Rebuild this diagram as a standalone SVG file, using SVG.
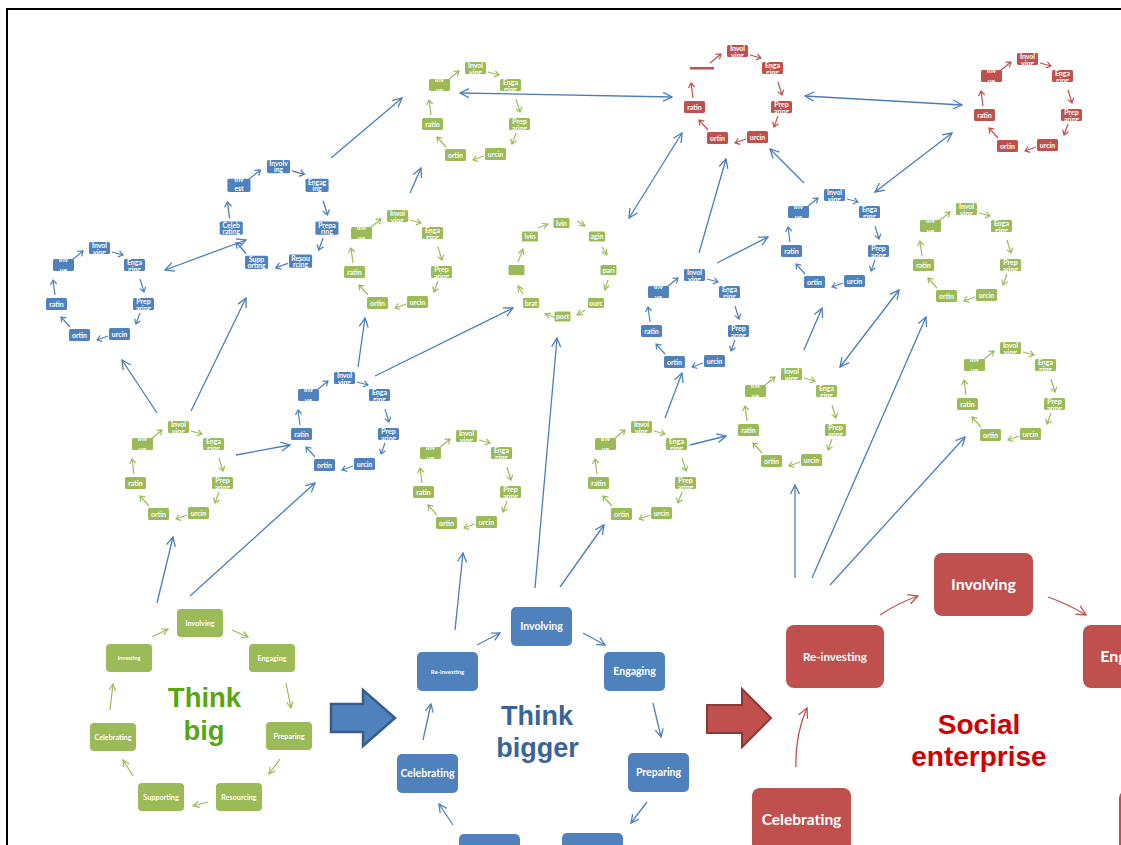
<svg xmlns="http://www.w3.org/2000/svg" width="1121" height="845" viewBox="0 0 1121 845">
<style>
.cg{color:#9BBB59}.cb{color:#4F81BD}.cr{color:#C0504D}
.gF{fill:#9BBB59}.bF{fill:#4F81BD}.rF{fill:#C0504D}
text{font-family:Lato,"Liberation Sans",sans-serif;font-weight:700;fill:#fff;text-anchor:middle}
.s{font-size:7px}
.sb{font-size:6.2px}
.cn{fill:none;stroke:#4A7EBB;stroke-width:1.3;marker-end:url(#ac)}
.dbl{marker-start:url(#ac)}
.ga{fill:none;stroke:#9BBB59;stroke-width:1.1;marker-end:url(#mgs)}
.ag{fill:none;stroke:#9BBB59;stroke-width:1.2;marker-end:url(#mg)}
.ab{fill:none;stroke:#4F81BD;stroke-width:1.3;marker-end:url(#mb)}
.ar{fill:none;stroke:#C0504D;stroke-width:1.3;marker-end:url(#mr)}
.ttl{font-family:"Liberation Sans",Arial,sans-serif;font-weight:700}
.tg{fill:#5AA514;font-size:27.5px}
.tb{fill:#3A6496;font-size:27px}
.tr{fill:#D00000;font-size:28px}
</style>
<defs>
<marker id="ac" viewBox="0 0 12 12" refX="11" refY="6" markerWidth="12" markerHeight="12" markerUnits="userSpaceOnUse" orient="auto-start-reverse"><path d="M2,1.5 L11,6 L2,10.5" fill="none" stroke="#4A7EBB" stroke-width="1.3"/></marker>
<marker id="mg" viewBox="0 0 10 10" refX="9" refY="5" markerWidth="8" markerHeight="8" markerUnits="userSpaceOnUse" orient="auto"><path d="M1,1 L9,5 L1,9" fill="none" stroke="#9BBB59" stroke-width="1.5"/></marker>
<marker id="mgs" viewBox="0 0 10 10" refX="9" refY="5" markerWidth="7" markerHeight="7" markerUnits="userSpaceOnUse" orient="auto"><path d="M1,1 L9,5 L1,9" fill="none" stroke="#9BBB59" stroke-width="1.7"/></marker>
<marker id="mb" viewBox="0 0 10 10" refX="9" refY="5" markerWidth="10" markerHeight="10" markerUnits="userSpaceOnUse" orient="auto"><path d="M1,1 L9,5 L1,9" fill="none" stroke="#4F81BD" stroke-width="1.3"/></marker>
<marker id="mr" viewBox="0 0 10 10" refX="9" refY="5" markerWidth="12" markerHeight="12" markerUnits="userSpaceOnUse" orient="auto"><path d="M1,1 L9,5 L1,9" fill="none" stroke="#C0504D" stroke-width="1.1"/></marker>
<g id="skA">
<g fill="currentColor">
<rect width="21" height="12" rx="1.5"/>
<rect x="35" y="17" width="21" height="12" rx="1.5"/>
<rect x="44" y="56" width="21" height="12" rx="1.5"/>
<rect x="20" y="86" width="21" height="12" rx="1.5"/>
<rect x="-20" y="87" width="21" height="12" rx="1.5"/>
<rect x="-43" y="56" width="21" height="12" rx="1.5"/>
</g>
<path fill="none" stroke="currentColor" stroke-width="1.2" d="M-34,53L-36,38M-38.5,42.9L-36,38L-32.3,42M-17,18L-6,9M-11.5,9.4L-6,9L-7.5,14.3M23,10L34,13M30.5,8.8L34,13L28.8,14.9M51,37L55,50M56.7,44.8L55,50L50.7,46.6M51,71L47,82M51.5,78.8L47,82L45.6,76.7M19,94L8,98M13.3,99.4L8,98L11.2,93.5M-19,85L-28,75M-27.3,80.5L-28,75L-22.6,76.2"/>
</g>
<rect id="skI" x="-36" y="17" width="21" height="12" rx="1.5" fill="currentColor"/>
</defs>

<path d="M7,845 V9 H1121" fill="none" stroke="#000" stroke-width="2"/>

<g id="connectors">
<path class="cn" d="M157,603 L173,537"/>
<path class="cn" d="M190,596 L315,483"/>
<path class="cn" d="M157,413 L122,360"/>
<path class="cn" d="M191,411 L246,298"/>
<path class="cn" d="M236,455 L290,445"/>
<path class="cn dbl" d="M165,270 L246,240"/>
<path class="cn" d="M331,158 L402,98"/>
<path class="cn" d="M358,367 L365,318"/>
<path class="cn" d="M375,376 L513,308"/>
<path class="cn" d="M410,193 L421,168"/>
<path class="cn dbl" d="M460,93 L672,97"/>
<path class="cn dbl" d="M805,96 L962,105"/>
<path class="cn dbl" d="M629,218 L682,133"/>
<path class="cn" d="M699,253 L726,159"/>
<path class="cn" d="M717,263 L768,237"/>
<path class="cn" d="M804,183 L770,149"/>
<path class="cn dbl" d="M875,192 L952,133"/>
<path class="cn" d="M535,588 L557,338"/>
<path class="cn" d="M455,630 L463,553"/>
<path class="cn" d="M560,587 L604,525"/>
<path class="cn" d="M665,418 L682,373"/>
<path class="cn" d="M690,445 L726,436"/>
<path class="cn" d="M804,350 L822,308"/>
<path class="cn dbl" d="M840,367 L899,290"/>
<path class="cn" d="M795,578 L795,485"/>
<path class="cn" d="M812,578 L926,317"/>
<path class="cn" d="M830,585 L965,437"/>
</g>

<!-- small cycles -->
<g id="n-a" class="cb" transform="translate(89,242)"><use href="#skA"/><use href="#skI"/>
<text class="s" x="10.5" y="6.3">Invol<tspan x="10.5" y="13.3">ving</tspan></text>
<text class="s" x="45.5" y="23.3">Enga<tspan x="45.5" y="30.3">ging</tspan></text>
<text class="s" x="54.5" y="62.3">Prep<tspan x="54.5" y="69.3">aring</tspan></text>
<text class="s" x="30.5" y="94.7">urcin</text>
<text class="s" x="-9.5" y="95.7">ortin</text>
<text class="s" x="-32.5" y="64.7">ratin</text>
<text class="s" x="-25.5" y="20.2">Inv<tspan x="-25.5" y="31">ve</tspan></text>
</g>

<g id="n-b" class="cb" transform="translate(267,160) scale(1.1)"><use href="#skA"/><use href="#skI"/>
<text class="sb" x="10.5" y="5.6">Involv<tspan x="10.5" y="11.3">ing</tspan></text>
<text class="sb" x="45.5" y="22.6">Engag<tspan x="45.5" y="28.3">ing</tspan></text>
<text class="sb" x="54.5" y="61.6">Prepa<tspan x="54.5" y="67.3">ring</tspan></text>
<text class="sb" x="30.5" y="91.6">Resou<tspan x="30.5" y="97.3">rcing</tspan></text>
<text class="sb" x="-9.5" y="92.6">Supp<tspan x="-9.5" y="98.3">orting</tspan></text>
<text class="sb" x="-32.5" y="61.6">Celeb<tspan x="-32.5" y="67.3">rating</tspan></text>
<text class="sb" x="-25.5" y="20.2">Inv<tspan x="-25.5" y="28.3">est</tspan></text>
</g>

<g id="n-c" class="cg" transform="translate(465,62)"><use href="#skA"/><use href="#skI"/>
<text class="s" x="10.5" y="6.3">Invol<tspan x="10.5" y="13.3">ving</tspan></text>
<text class="s" x="45.5" y="23.3">Enga<tspan x="45.5" y="30.3">ging</tspan></text>
<text class="s" x="54.5" y="62.3">Prep<tspan x="54.5" y="69.3">aring</tspan></text>
<text class="s" x="30.5" y="94.7">urcin</text>
<text class="s" x="-9.5" y="95.7">ortin</text>
<text class="s" x="-32.5" y="64.7">ratin</text>
<text class="s" x="-25.5" y="20.2">Inv<tspan x="-25.5" y="31">ve</tspan></text>
</g>

<g id="n-d" class="cr" transform="translate(727,45)"><use href="#skA"/>
<rect x="-37" y="22" width="24" height="2.5" fill="#C0504D"/>
<text class="s" x="10.5" y="6.3">Invol<tspan x="10.5" y="13.3">ving</tspan></text>
<text class="s" x="45.5" y="23.3">Enga<tspan x="45.5" y="30.3">ging</tspan></text>
<text class="s" x="54.5" y="62.3">Prep<tspan x="54.5" y="69.3">aring</tspan></text>
<text class="s" x="30.5" y="94.7">urcin</text>
<text class="s" x="-9.5" y="95.7">ortin</text>
<text class="s" x="-32.5" y="64.7">ratin</text>
</g>

<g id="n-e" class="cr" transform="translate(1017,53)"><use href="#skA"/><use href="#skI"/>
<text class="s" x="10.5" y="6.3">Invol<tspan x="10.5" y="13.3">ving</tspan></text>
<text class="s" x="45.5" y="23.3">Enga<tspan x="45.5" y="30.3">ging</tspan></text>
<text class="s" x="54.5" y="62.3">Prep<tspan x="54.5" y="69.3">aring</tspan></text>
<text class="s" x="30.5" y="94.7">urcin</text>
<text class="s" x="-9.5" y="95.7">ortin</text>
<text class="s" x="-32.5" y="64.7">ratin</text>
<text class="s" x="-25.5" y="20.2">Inv<tspan x="-25.5" y="31">ve</tspan></text>
</g>

<g id="n-f" class="cg" transform="translate(387,210)"><use href="#skA"/><use href="#skI"/>
<text class="s" x="10.5" y="6.3">Invol<tspan x="10.5" y="13.3">ving</tspan></text>
<text class="s" x="45.5" y="23.3">Enga<tspan x="45.5" y="30.3">ging</tspan></text>
<text class="s" x="54.5" y="62.3">Prep<tspan x="54.5" y="69.3">aring</tspan></text>
<text class="s" x="30.5" y="94.7">urcin</text>
<text class="s" x="-9.5" y="95.7">ortin</text>
<text class="s" x="-32.5" y="64.7">ratin</text>
<text class="s" x="-25.5" y="20.2">Inv<tspan x="-25.5" y="31">ve</tspan></text>
</g>

<g id="n-g" class="cg">
<rect class="gF" x="553.5" y="218" width="16" height="10" rx="1"/>
<rect class="gF" x="589" y="231.5" width="16" height="10" rx="1"/>
<rect class="gF" x="600.5" y="265" width="16" height="10" rx="1"/>
<rect class="gF" x="588" y="298" width="16" height="10" rx="1"/>
<rect class="gF" x="554.5" y="311.5" width="16" height="10" rx="1"/>
<rect class="gF" x="523" y="298" width="16" height="10" rx="1"/>
<rect class="gF" x="508.5" y="265" width="16" height="10" rx="1"/>
<rect class="gF" x="522" y="231.5" width="16" height="10" rx="1"/>
<path class="ga" d="M538,228 L548,224"/>
<path class="ga" d="M577,221 L585,226"/>
<path class="ga" d="M602,247 L607,255"/>
<path class="ga" d="M608,280 L605,290"/>
<path class="ga" d="M585,310 L577,315"/>
<path class="ga" d="M557,318 L545,314"/>
<path class="ga" d="M523,294 L518,286"/>
<path class="ga" d="M518,262 L523,249"/>
<text class="s" x="561.5" y="225.5">lvin</text>
<text class="s" x="597" y="239">agin</text>
<text class="s" x="608.5" y="272.5">pari</text>
<text class="s" x="596" y="305.5">ourc</text>
<text class="s" x="562.5" y="319">port</text>
<text class="s" x="531" y="305.5">brat</text>
<text class="s" x="530" y="239">lvin</text>
</g>

<g id="n-h" class="cb" transform="translate(684,269)"><use href="#skA"/><use href="#skI"/>
<text class="s" x="10.5" y="6.3">Invol<tspan x="10.5" y="13.3">ving</tspan></text>
<text class="s" x="45.5" y="23.3">Enga<tspan x="45.5" y="30.3">ging</tspan></text>
<text class="s" x="54.5" y="62.3">Prep<tspan x="54.5" y="69.3">aring</tspan></text>
<text class="s" x="30.5" y="94.7">urcin</text>
<text class="s" x="-9.5" y="95.7">ortin</text>
<text class="s" x="-32.5" y="64.7">ratin</text>
<text class="s" x="-25.5" y="20.2">Inv<tspan x="-25.5" y="31">ve</tspan></text>
</g>

<g id="n-i" class="cb" transform="translate(824,189)"><use href="#skA"/><use href="#skI"/>
<text class="s" x="10.5" y="6.3">Invol<tspan x="10.5" y="13.3">ving</tspan></text>
<text class="s" x="45.5" y="23.3">Enga<tspan x="45.5" y="30.3">ging</tspan></text>
<text class="s" x="54.5" y="62.3">Prep<tspan x="54.5" y="69.3">aring</tspan></text>
<text class="s" x="30.5" y="94.7">urcin</text>
<text class="s" x="-9.5" y="95.7">ortin</text>
<text class="s" x="-32.5" y="64.7">ratin</text>
<text class="s" x="-25.5" y="20.2">Inv<tspan x="-25.5" y="31">ve</tspan></text>
</g>

<g id="n-j" class="cg" transform="translate(956,203)"><use href="#skA"/><use href="#skI"/>
<text class="s" x="10.5" y="6.3">Invol<tspan x="10.5" y="13.3">ving</tspan></text>
<text class="s" x="45.5" y="23.3">Enga<tspan x="45.5" y="30.3">ging</tspan></text>
<text class="s" x="54.5" y="62.3">Prep<tspan x="54.5" y="69.3">aring</tspan></text>
<text class="s" x="30.5" y="94.7">urcin</text>
<text class="s" x="-9.5" y="95.7">ortin</text>
<text class="s" x="-32.5" y="64.7">ratin</text>
<text class="s" x="-25.5" y="20.2">Inv<tspan x="-25.5" y="31">ve</tspan></text>
</g>

<g id="n-k" class="cg" transform="translate(1000,342)"><use href="#skA"/><use href="#skI"/>
<text class="s" x="10.5" y="6.3">Invol<tspan x="10.5" y="13.3">ving</tspan></text>
<text class="s" x="45.5" y="23.3">Enga<tspan x="45.5" y="30.3">ging</tspan></text>
<text class="s" x="54.5" y="62.3">Prep<tspan x="54.5" y="69.3">aring</tspan></text>
<text class="s" x="30.5" y="94.7">urcin</text>
<text class="s" x="-9.5" y="95.7">ortin</text>
<text class="s" x="-32.5" y="64.7">ratin</text>
<text class="s" x="-25.5" y="20.2">Inv<tspan x="-25.5" y="31">ve</tspan></text>
</g>

<g id="n-l" class="cg" transform="translate(168,421)"><use href="#skA"/><use href="#skI"/>
<text class="s" x="10.5" y="6.3">Invol<tspan x="10.5" y="13.3">ving</tspan></text>
<text class="s" x="45.5" y="23.3">Enga<tspan x="45.5" y="30.3">ging</tspan></text>
<text class="s" x="54.5" y="62.3">Prep<tspan x="54.5" y="69.3">aring</tspan></text>
<text class="s" x="30.5" y="94.7">urcin</text>
<text class="s" x="-9.5" y="95.7">ortin</text>
<text class="s" x="-32.5" y="64.7">ratin</text>
<text class="s" x="-25.5" y="20.2">Inv<tspan x="-25.5" y="31">ve</tspan></text>
</g>

<g id="n-m" class="cb" transform="translate(334,372)"><use href="#skA"/><use href="#skI"/>
<text class="s" x="10.5" y="6.3">Invol<tspan x="10.5" y="13.3">ving</tspan></text>
<text class="s" x="45.5" y="23.3">Enga<tspan x="45.5" y="30.3">ging</tspan></text>
<text class="s" x="54.5" y="62.3">Prep<tspan x="54.5" y="69.3">aring</tspan></text>
<text class="s" x="30.5" y="94.7">urcin</text>
<text class="s" x="-9.5" y="95.7">ortin</text>
<text class="s" x="-32.5" y="64.7">ratin</text>
<text class="s" x="-25.5" y="20.2">Inv<tspan x="-25.5" y="31">ve</tspan></text>
</g>

<g id="n-n" class="cg" transform="translate(456,430)"><use href="#skA"/><use href="#skI"/>
<text class="s" x="10.5" y="6.3">Invol<tspan x="10.5" y="13.3">ving</tspan></text>
<text class="s" x="45.5" y="23.3">Enga<tspan x="45.5" y="30.3">ging</tspan></text>
<text class="s" x="54.5" y="62.3">Prep<tspan x="54.5" y="69.3">aring</tspan></text>
<text class="s" x="30.5" y="94.7">urcin</text>
<text class="s" x="-9.5" y="95.7">ortin</text>
<text class="s" x="-32.5" y="64.7">ratin</text>
<text class="s" x="-25.5" y="20.2">Inv<tspan x="-25.5" y="31">ve</tspan></text>
</g>

<g id="n-o" class="cg" transform="translate(631,421)"><use href="#skA"/><use href="#skI"/>
<text class="s" x="10.5" y="6.3">Invol<tspan x="10.5" y="13.3">ving</tspan></text>
<text class="s" x="45.5" y="23.3">Enga<tspan x="45.5" y="30.3">ging</tspan></text>
<text class="s" x="54.5" y="62.3">Prep<tspan x="54.5" y="69.3">aring</tspan></text>
<text class="s" x="30.5" y="94.7">urcin</text>
<text class="s" x="-9.5" y="95.7">ortin</text>
<text class="s" x="-32.5" y="64.7">ratin</text>
<text class="s" x="-25.5" y="20.2">Inv<tspan x="-25.5" y="31">ve</tspan></text>
</g>

<g id="n-p" class="cg" transform="translate(781,368)"><use href="#skA"/><use href="#skI"/>
<text class="s" x="10.5" y="6.3">Invol<tspan x="10.5" y="13.3">ving</tspan></text>
<text class="s" x="45.5" y="23.3">Enga<tspan x="45.5" y="30.3">ging</tspan></text>
<text class="s" x="54.5" y="62.3">Prep<tspan x="54.5" y="69.3">aring</tspan></text>
<text class="s" x="30.5" y="94.7">urcin</text>
<text class="s" x="-9.5" y="95.7">ortin</text>
<text class="s" x="-32.5" y="64.7">ratin</text>
<text class="s" x="-25.5" y="20.2">Inv<tspan x="-25.5" y="31">ve</tspan></text>
</g>

<!-- Think big -->
<g id="think-big">
<rect class="gF" x="177" y="609" width="46" height="28" rx="4"/>
<rect class="gF" x="249" y="644" width="46" height="28" rx="4"/>
<rect class="gF" x="266" y="722" width="46" height="28" rx="4"/>
<rect class="gF" x="216" y="783" width="46" height="28" rx="4"/>
<rect class="gF" x="138" y="783" width="46" height="28" rx="4"/>
<rect class="gF" x="90" y="723" width="46" height="28" rx="4"/>
<rect class="gF" x="106" y="644" width="46" height="28" rx="4"/>
<text x="200" y="625.6" font-size="7.2">Involving</text>
<text x="272" y="660.6" font-size="7.2">Engaging</text>
<text x="289" y="738.6" font-size="7.2">Preparing</text>
<text x="239" y="799.6" font-size="7.2">Resourcing</text>
<text x="161" y="799.6" font-size="7.2">Supporting</text>
<text x="113" y="739.6" font-size="7.2">Celebrating</text>
<text x="129" y="660" font-size="5.6">Investing</text>
<path class="ag" d="M152,637 L168,629"/>
<path class="ag" d="M232,630 L248,637"/>
<path class="ag" d="M286,683 L291,708"/>
<path class="ag" d="M280,759 L269,774"/>
<path class="ag" d="M208,802 L193,806"/>
<path class="ag" d="M133,776 L123,760"/>
<path class="ag" d="M110,710 L113,684"/>
<text class="ttl tg" x="204.5" y="707">Think</text>
<text class="ttl tg" x="204" y="739.5">big</text>
</g>

<!-- Think bigger -->
<g id="think-bigger">
<rect class="bF" x="511" y="607" width="61" height="39" rx="5"/>
<rect class="bF" x="604" y="652" width="61" height="39" rx="5"/>
<rect class="bF" x="628" y="753" width="61" height="39" rx="5"/>
<rect class="bF" x="562" y="833" width="61" height="39" rx="5"/>
<rect class="bF" x="459" y="834" width="61" height="39" rx="5"/>
<rect class="bF" x="397" y="754" width="61" height="39" rx="5"/>
<rect class="bF" x="417" y="652" width="61" height="39" rx="5"/>
<text x="541.5" y="630.2" font-size="10.5">Involving</text>
<text x="634.5" y="675.2" font-size="10.5">Engaging</text>
<text x="658.5" y="776.2" font-size="10.5">Preparing</text>
<text x="427.5" y="777.2" font-size="10.5">Celebrating</text>
<text x="447.5" y="673.6" font-size="6">Re-investing</text>
<path class="ab" d="M477,645 L500,633"/>
<path class="ab" d="M583,633 L605,645"/>
<path class="ab" d="M653,703 L661,737"/>
<path class="ab" d="M647,802 L631,823"/>
<path class="ab" d="M453,825 L439,804"/>
<path class="ab" d="M423,740 L431,704"/>
<text class="ttl tb" x="537" y="725">Think</text>
<text class="ttl tb" x="537.5" y="756.5">bigger</text>
</g>

<!-- Social enterprise -->
<g id="social-enterprise">
<rect class="rF" x="934" y="553" width="99" height="63" rx="8"/>
<rect class="rF" x="1083" y="625" width="99" height="63" rx="8"/>
<rect class="rF" x="786" y="625" width="98" height="63" rx="8"/>
<rect class="rF" x="752" y="788" width="99" height="63" rx="8"/>
<rect class="rF" x="1119" y="790" width="99" height="63" rx="8"/>
<text x="983.5" y="590" font-size="16">Involving</text>
<text x="1132.5" y="662" font-size="16">Engaging</text>
<text x="835" y="660.5" font-size="11.5">Re-investing</text>
<text x="801.5" y="825" font-size="15.5">Celebrating</text>
<path class="ar" d="M880,615 Q898,603 918,596"/>
<path class="ar" d="M1048,597 Q1068,604 1086,615"/>
<path class="ar" d="M796,767 Q795,735 807,708"/>
<text class="ttl tr" x="979" y="734">Social</text>
<text class="ttl tr" x="979" y="766">enterprise</text>
</g>

<g id="block-arrows">
<path d="M331,704 H363 V690 L395,718 L363,746 V732 H331 Z" fill="#4F81BD" stroke="#385D8A" stroke-width="2.5" stroke-linejoin="miter"/>
<path d="M707,705 H742 V689 L771,718 L742,747 V733 H707 Z" fill="#C0504D" stroke="#8C3836" stroke-width="2"/>
</g>
</svg>
